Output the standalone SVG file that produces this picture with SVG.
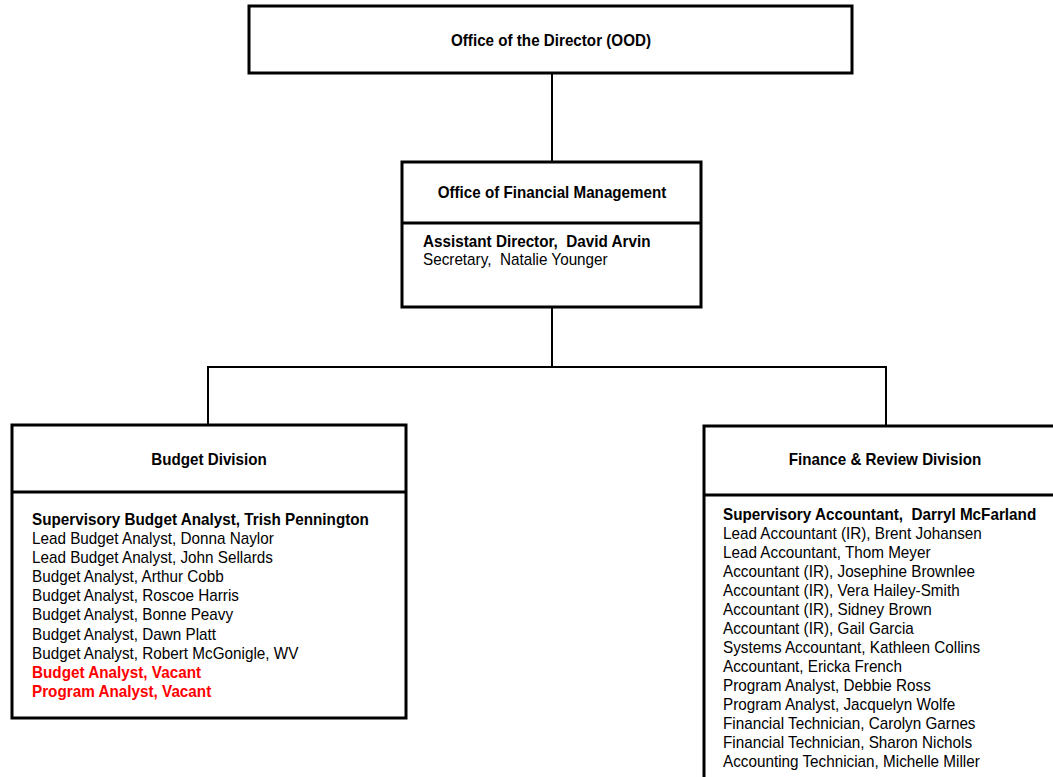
<svg xmlns="http://www.w3.org/2000/svg" width="1053" height="777" viewBox="0 0 1053 777">
<style>
.box{fill:#fff;stroke:#000;stroke-width:3}
.div{stroke:#000;stroke-width:3}
.con{fill:none;stroke:#000;stroke-width:2}
text{font-family:"Liberation Sans",Arial,sans-serif;font-size:16px;fill:#000}
.t{font-weight:bold;text-anchor:middle}
.b{font-weight:bold}
.red{fill:#ff0000;font-weight:bold}
</style>
<rect width="1053" height="777" fill="#fff"/>
<g id="connectors">
<line class="con" x1="552" y1="74" x2="552" y2="162"/>
<polyline class="con" points="552,307 552,367"/>
<polyline class="con" points="208,425 208,367 886,367 886,426"/>
</g>
<g id="ood">
<rect class="box" x="249" y="6" width="603" height="67"/>
<g transform="translate(551,0) scale(0.95,1)"><text class="t" x="0" y="46">Office of the Director (OOD)</text></g>
</g>
<g id="ofm">
<rect class="box" x="402" y="162" width="299" height="145"/>
<line class="div" x1="402" y1="223" x2="701" y2="223"/>
<g transform="translate(552,0) scale(0.95,1)"><text class="t" x="0" y="198">Office of Financial Management</text></g>
<g transform="translate(423,0) scale(0.955,1)">
<text class="b" x="0" y="247" xml:space="preserve">Assistant Director,  David Arvin</text>
<text x="0" y="265" xml:space="preserve">Secretary,  Natalie Younger</text>
</g>
</g>
<g id="budget">
<rect class="box" x="12" y="425" width="394" height="293"/>
<line class="div" x1="12" y1="492" x2="406" y2="492"/>
<g transform="translate(209,0) scale(0.95,1)"><text class="t" x="0" y="465">Budget Division</text></g>
<g transform="translate(32,0) scale(0.955,1)">
<text class="b" x="0" y="525">Supervisory Budget Analyst, Trish Pennington</text>
<text x="0" y="544">Lead Budget Analyst, Donna Naylor</text>
<text x="0" y="563">Lead Budget Analyst, John Sellards</text>
<text x="0" y="582">Budget Analyst, Arthur Cobb</text>
<text x="0" y="601">Budget Analyst, Roscoe Harris</text>
<text x="0" y="620">Budget Analyst, Bonne Peavy</text>
<text x="0" y="640">Budget Analyst, Dawn Platt</text>
<text x="0" y="659">Budget Analyst, Robert McGonigle, WV</text>
<text class="red" x="0" y="678">Budget Analyst, Vacant</text>
<text class="red" x="0" y="697">Program Analyst, Vacant</text>
</g>
</g>
<g id="finance">
<rect class="box" x="704" y="426" width="360" height="370"/>
<line class="div" x1="704" y1="495" x2="1064" y2="495"/>
<g transform="translate(885,0) scale(0.95,1)"><text class="t" x="0" y="465">Finance &amp; Review Division</text></g>
<g transform="translate(723,0) scale(0.955,1)">
<text class="b" x="0" y="520" xml:space="preserve">Supervisory Accountant,  Darryl McFarland</text>
<text x="0" y="539">Lead Accountant (IR), Brent Johansen</text>
<text x="0" y="558">Lead Accountant, Thom Meyer</text>
<text x="0" y="577">Accountant (IR), Josephine Brownlee</text>
<text x="0" y="596">Accountant (IR), Vera Hailey-Smith</text>
<text x="0" y="615">Accountant (IR), Sidney Brown</text>
<text x="0" y="634">Accountant (IR), Gail Garcia</text>
<text x="0" y="653">Systems Accountant, Kathleen Collins</text>
<text x="0" y="672">Accountant, Ericka French</text>
<text x="0" y="691">Program Analyst, Debbie Ross</text>
<text x="0" y="710">Program Analyst, Jacquelyn Wolfe</text>
<text x="0" y="729">Financial Technician, Carolyn Garnes</text>
<text x="0" y="748">Financial Technician, Sharon Nichols</text>
<text x="0" y="767">Accounting Technician, Michelle Miller</text>
</g>
</g>
</svg>
